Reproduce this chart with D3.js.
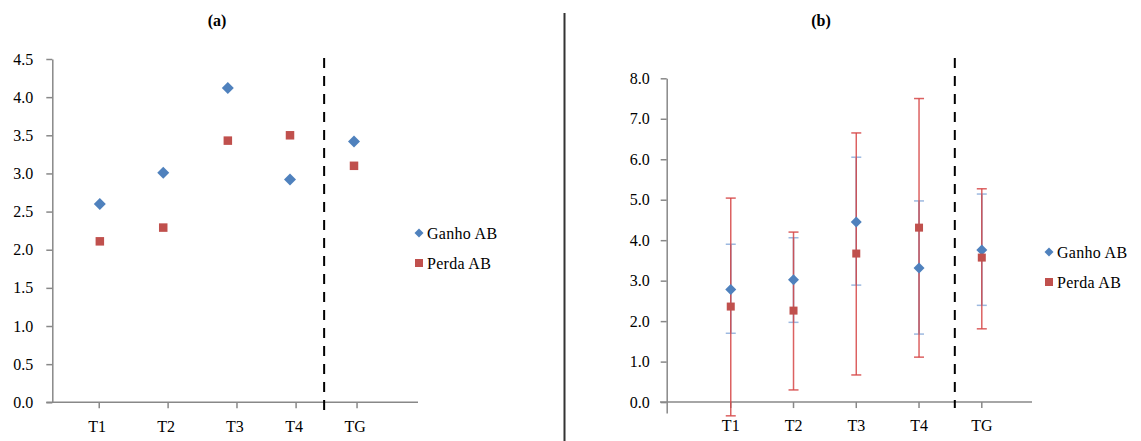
<!DOCTYPE html>
<html><head><meta charset="utf-8">
<script src="https://cdn.jsdelivr.net/npm/d3@7"></script>
<style>
body{margin:0;background:#fff;}
</style></head>
<body><svg id="c" width="1141" height="441"></svg>
<script>
// ---- data ----
const categories = ["T1","T2","T3","T4","TG"];
// panel (a)
const tickPosA = [0.77, 1.90, 3.03, 4.0, 5.0];
const markPosA = [0.78, 1.82, 2.88, 3.90, 4.95];
const ganhoA = [2.60, 3.01, 4.12, 2.92, 3.42];
const perdaA = [2.11, 2.29, 3.43, 3.50, 3.10];
const yTicksA = [0,0.5,1,1.5,2,2.5,3,3.5,4,4.5];
const sepA = 4.46;
// panel (b)
const posB = [1, 2, 3, 4, 5];
const ganhoB = [2.78, 3.02, 4.45, 3.31, 3.76];
const ganhoBLow = [1.70, 1.97, 2.89, 1.68, 2.39];
const ganhoBHigh = [3.90, 4.06, 6.05, 4.97, 5.14];
const perdaB = [2.36, 2.26, 3.67, 4.31, 3.57];
const perdaBLow = [-0.34, 0.30, 0.67, 1.11, 1.81];
const perdaBHigh = [5.04, 4.20, 6.65, 7.50, 5.27];
const yTicksB = [0,1,2,3,4,5,6,7,8];
const sepB = 4.57;
const seriesNames = ["Ganho AB","Perda AB"];

const FONT = "'Liberation Serif', Tinos, 'Times New Roman', 'DejaVu Serif', serif";
const blue = "#4F81BD", red = "#C0504D", axisCol = "#888";
const svg = d3.select("#c");
const fmt = d3.format(".1f");

function txt(g, x, y, s, size, anchor, bold){
  return g.append("text").attr("x",x).attr("y",y).attr("text-anchor",anchor||"start")
    .style("font-family",FONT).style("font-size",size+"px").style("font-weight",bold?"bold":"normal")
    .attr("fill","#000").text(s);
}
function diamond(g, x, y, r){
  g.append("path").attr("d",`M${x},${y-r}L${x+r},${y}L${x},${y+r}L${x-r},${y}Z`).attr("fill",blue);
}
function square(g, x, y, s){
  g.append("rect").attr("x",x-s/2).attr("y",y-s/2).attr("width",s).attr("height",s).attr("fill",red);
}
function legend(g, x, y){
  diamond(g, x, y, 4.5);
  txt(g, x+8, y+5.5, seriesNames[0], 16).style("letter-spacing","0.3px");
  square(g, x, y+30, 8);
  txt(g, x+8, y+35.5, seriesNames[1], 16).style("letter-spacing","0.3px");
}
function styleAxis(ax){
  ax.select(".domain").attr("stroke",axisCol).attr("stroke-width",1.5);
  ax.selectAll(".tick line").attr("stroke",axisCol).attr("stroke-width",1.5);
  ax.selectAll(".tick text").style("font-size","16px").style("font-family",FONT).attr("fill","#000");
}

// ---- panel (a) ----
{
  const x = d3.scaleLinear().domain([0,6]).range([52.3,418]);
  const y = d3.scaleLinear().domain([0,4.5]).range([402.3,59]);
  const g = svg.append("g");
  const ya = g.append("g").attr("transform",`translate(${x(0)},0)`)
    .call(d3.axisLeft(y).tickValues(yTicksA).tickFormat(fmt).tickSize(6).tickSizeOuter(0).tickPadding(13));
  styleAxis(ya);
  g.append("line").attr("x1",x(0)-6).attr("x2",x(6)).attr("y1",y(0)).attr("y2",y(0)).attr("stroke",axisCol).attr("stroke-width",1.5);
  tickPosA.forEach((p,i)=>{
    g.append("line").attr("x1",x(p)).attr("x2",x(p)).attr("y1",y(0)).attr("y2",y(0)+6).attr("stroke",axisCol).attr("stroke-width",1.5);
    txt(g, x(p)-2, 432, categories[i], 16, "middle");
  });
  g.append("line").attr("x1",x(sepA)).attr("x2",x(sepA)).attr("y1",58).attr("y2",410)
    .attr("stroke","#000").attr("stroke-width",2).attr("stroke-dasharray","10,8");
  markPosA.forEach((p,i)=>{ diamond(g, x(p), y(ganhoA[i]), 6); });
  markPosA.forEach((p,i)=>{ square(g, x(p), y(perdaA[i]), 8.5); });
  txt(g, 217, 26, "(a)", 16, "middle", true);
  legend(g, 419, 233);
}

// divider
svg.append("line").attr("x1",564.5).attr("x2",564.5).attr("y1",13).attr("y2",441).attr("stroke","#333").attr("stroke-width",2);

// ---- panel (b) ----
{
  const x = d3.scaleLinear().domain([0,5.8]).range([668,1032]);
  const y = d3.scaleLinear().domain([-0.27,8]).range([413,78.3]);
  const g = svg.append("g");
  const ya = g.append("g").attr("transform",`translate(666.7,0)`)
    .call(d3.axisLeft(y).tickValues(yTicksB).tickFormat(fmt).tickSize(6).tickSizeOuter(0).tickPadding(11));
  styleAxis(ya);
  g.append("line").attr("x1",660).attr("x2",x(5.8)).attr("y1",y(0)).attr("y2",y(0)).attr("stroke",axisCol).attr("stroke-width",1.5);
  posB.forEach((p,i)=>{
    g.append("line").attr("x1",x(p)).attr("x2",x(p)).attr("y1",y(0)).attr("y2",y(0)+6).attr("stroke",axisCol).attr("stroke-width",1.5);
    txt(g, x(p), 431, categories[i], 16, "middle");
  });
  g.append("line").attr("x1",x(sepB)).attr("x2",x(sepB)).attr("y1",58).attr("y2",408)
    .attr("stroke","#000").attr("stroke-width",2).attr("stroke-dasharray","10,8");
  posB.forEach((p,i)=>{
    const cx = x(p);
    g.append("line").attr("x1",cx).attr("x2",cx).attr("y1",y(ganhoBLow[i])).attr("y2",y(ganhoBHigh[i])).attr("stroke","#7a9fd0").attr("stroke-width",1.5);
    [ganhoBLow[i],ganhoBHigh[i]].forEach(v=>g.append("line").attr("x1",cx-5).attr("x2",cx+5).attr("y1",y(v)).attr("y2",y(v)).attr("stroke","#9DB9E0").attr("stroke-width",1.5));
  });
  posB.forEach((p,i)=>{
    const cx = x(p);
    g.append("line").attr("x1",cx).attr("x2",cx).attr("y1",y(perdaBLow[i])).attr("y2",y(perdaBHigh[i])).attr("stroke","#D64545").attr("stroke-opacity",0.85).attr("stroke-width",1.5);
    [perdaBLow[i],perdaBHigh[i]].forEach(v=>g.append("line").attr("x1",cx-5).attr("x2",cx+5).attr("y1",y(v)).attr("y2",y(v)).attr("stroke","#D64545").attr("stroke-opacity",0.85).attr("stroke-width",1.5));
  });
  posB.forEach((p,i)=>{ diamond(g, x(p), y(ganhoB[i]), 5.5); });
  posB.forEach((p,i)=>{ square(g, x(p), y(perdaB[i]), 8); });
  txt(g, 821, 26, "(b)", 16, "middle", true);
  legend(g, 1049, 252);
}
</script></body></html>
